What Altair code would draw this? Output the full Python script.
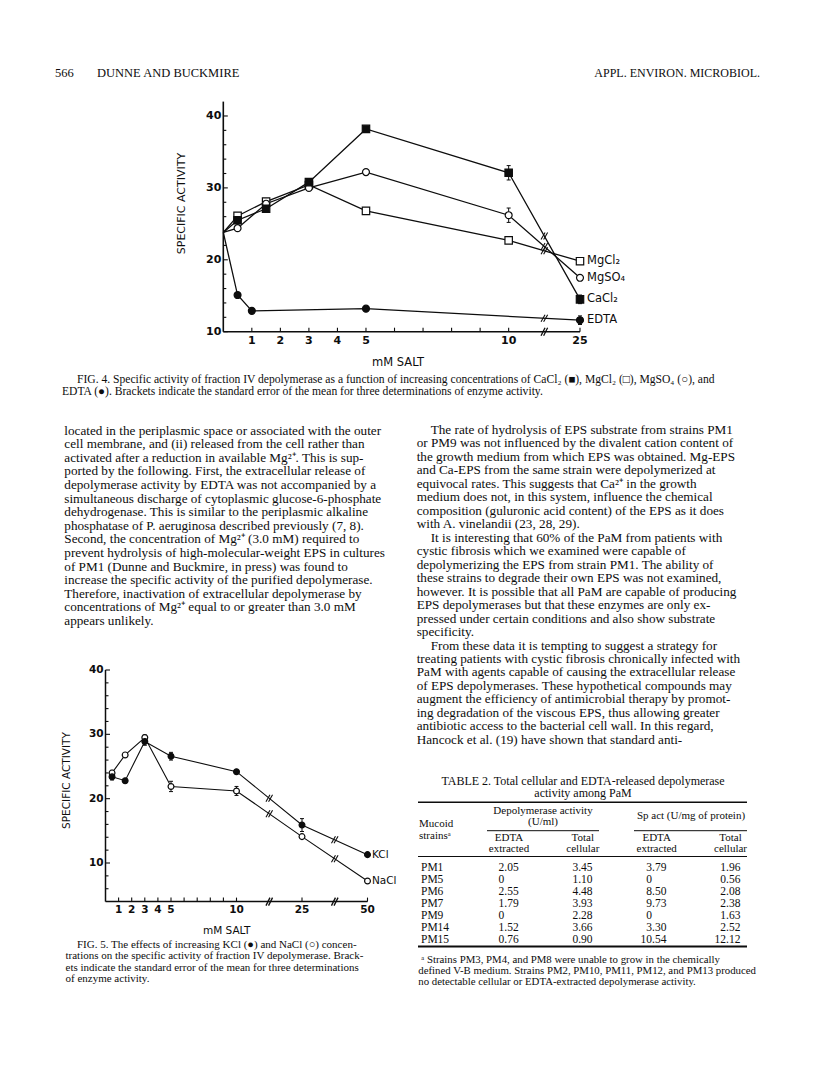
import altair as alt
import numpy as np
import pandas as pd

# ---------------- DATA ----------------
# Fig. 4: specific activity vs mM salt (0 = no salt added)
fig4_mM = [0, 0.5, 1.5, 3, 5, 10, 25]
fig4_cacl2 = [23.8, 25.5, 27.1, 30.8, 38.2, 32.1, 14.5]
fig4_mgcl2 = [23.8, 26.1, 28.1, 30.4, 26.8, 22.7, 19.8]
fig4_mgso4 = [23.8, 24.4, 27.8, 30.0, 32.2, 26.2, 17.5]
fig4_edta_mM = [0, 0.5, 1, 5, 25]
fig4_edta = [23.8, 15.1, 12.9, 13.2, 11.6]
fig4_err_series = ["CaCl2", "CaCl2", "MgSO4", "MgCl2", "EDTA", "CaCl2"]
fig4_err_mM = [10, 25, 10, 0.5, 25, 0.5]
fig4_err_se = [1.0, 0.6, 1.0, 0.3, 0.6, 0.4]
fig4_series = ["CaCl2", "MgCl2", "MgSO4", "EDTA"]
fig4_labels = ["CaCl₂", "MgCl₂", "MgSO₄", "EDTA"]
fig4_xlabels = [1, 2, 3, 4, 5, 10, 25]
fig4_yticks = [10, 20, 30, 40]

# Fig. 5
fig5_mM = [0.5, 1.5, 3, 5, 10, 25, 50]
fig5_kcl = [23.4, 22.8, 28.9, 26.6, 24.2, 15.9, 11.3]
fig5_nacl = [24.0, 26.8, 29.5, 21.9, 21.2, 14.1, 7.2]
fig5_err_series = ["KCl", "KCl", "KCl", "KCl", "NaCl", "NaCl", "NaCl", "NaCl"]
fig5_err_mM = [0.5, 3, 5, 25, 0.5, 3, 5, 10]
fig5_err_se = [0.5, 0.6, 0.6, 1.0, 0.4, 0.4, 0.8, 0.7]
fig5_series = ["KCl", "NaCl"]
fig5_labels = ["KCl", "NaCl"]
fig5_xlabels = [1, 2, 3, 4, 5, 10, 25, 50]
fig5_yticks = [10, 20, 30, 40]

# Table 2
tab_strains = ["PM1", "PM5", "PM6", "PM7", "PM9", "PM14", "PM15"]
tab_edta_u = [2.05, 0, 2.55, 1.79, 0, 1.52, 0.76]
tab_total_u = [3.45, 1.10, 4.48, 3.93, 2.28, 3.66, 0.90]
tab_edta_sp = [3.79, 0, 8.50, 9.73, 0, 3.30, 10.54]
tab_total_sp = [1.96, 0.56, 2.08, 2.38, 1.63, 2.52, 12.12]

# Text
header_left = "DUNNE AND BUCKMIRE"
header_page = "566"
header_right = "APPL. ENVIRON. MICROBIOL."
fig4_caption = [
    "FIG. 4.  Specific activity of fraction IV depolymerase as a function of increasing concentrations of CaCl₂ (■), MgCl₂ (□), MgSO₄ (○), and",
    "EDTA (●). Brackets indicate the standard error of the mean for three determinations of enzyme activity.",
]
left_text = [
    "located in the periplasmic space or associated with the outer",
    "cell membrane, and (ii) released from the cell rather than",
    "activated after a reduction in available Mg²⁺. This is sup-",
    "ported by the following. First, the extracellular release of",
    "depolymerase activity by EDTA was not accompanied by a",
    "simultaneous discharge of cytoplasmic glucose-6-phosphate",
    "dehydrogenase. This is similar to the periplasmic alkaline",
    "phosphatase of P. aeruginosa described previously (7, 8).",
    "Second, the concentration of Mg²⁺ (3.0 mM) required to",
    "prevent hydrolysis of high-molecular-weight EPS in cultures",
    "of PM1 (Dunne and Buckmire, in press) was found to",
    "increase the specific activity of the purified depolymerase.",
    "Therefore, inactivation of extracellular depolymerase by",
    "concentrations of Mg²⁺ equal to or greater than 3.0 mM",
    "appears unlikely.",
]
right_text = [
    "The rate of hydrolysis of EPS substrate from strains PM1",
    "or PM9 was not influenced by the divalent cation content of",
    "the growth medium from which EPS was obtained. Mg-EPS",
    "and Ca-EPS from the same strain were depolymerized at",
    "equivocal rates. This suggests that Ca²⁺ in the growth",
    "medium does not, in this system, influence the chemical",
    "composition (guluronic acid content) of the EPS as it does",
    "with A. vinelandii (23, 28, 29).",
    "It is interesting that 60% of the PaM from patients with",
    "cystic fibrosis which we examined were capable of",
    "depolymerizing the EPS from strain PM1. The ability of",
    "these strains to degrade their own EPS was not examined,",
    "however. It is possible that all PaM are capable of producing",
    "EPS depolymerases but that these enzymes are only ex-",
    "pressed under certain conditions and also show substrate",
    "specificity.",
    "From these data it is tempting to suggest a strategy for",
    "treating patients with cystic fibrosis chronically infected with",
    "PaM with agents capable of causing the extracellular release",
    "of EPS depolymerases. These hypothetical compounds may",
    "augment the efficiency of antimicrobial therapy by promot-",
    "ing degradation of the viscous EPS, thus allowing greater",
    "antibiotic access to the bacterial cell wall. In this regard,",
    "Hancock et al. (19) have shown that standard anti-",
]
right_indent = [1, 0, 0, 0, 0, 0, 0, 0, 1, 0, 0, 0, 0, 0, 0, 0, 1, 0, 0, 0, 0, 0, 0, 0]
fig5_caption = [
    "FIG. 5.  The effects of increasing KCl (●) and NaCl (○) concen-",
    "trations on the specific activity of fraction IV depolymerase. Brack-",
    "ets indicate the standard error of the mean for three determinations",
    "of enzyme activity.",
]
table_title = ["TABLE 2.  Total cellular and EDTA-released depolymerase", "activity among PaM"]
table_sub1 = ["EDTA", "Total", "EDTA", "Total"]
table_sub2 = ["extracted", "cellular", "extracted", "cellular"]
table_foot = [
    "ᵃ Strains PM3, PM4, and PM8 were unable to grow in the chemically",
    "defined V-B medium. Strains PM2, PM10, PM11, PM12, and PM13 produced",
    "no detectable cellular or EDTA-extracted depolymerase activity.",
]

# ---------------- LAYOUT (page pixels; chart origin is the 8px page margin) ----------------
OFF = 8.0


def P(v):
    return v - OFF


SERIF = "Liberation Serif"
SANS = "DejaVu Sans"
INK = "#0d0d0d"
BODY = 13.2

layers = []


def sc(domain, rng):
    return alt.Scale(domain=domain, range=[P(r) for r in rng], nice=False, zero=False)


def label(text, x, y, **mk):
    df = pd.DataFrame({"t": [text]})
    props = dict(align="left", baseline="middle", font=SERIF, fontSize=12, color=INK)
    props.update(mk)
    return alt.Chart(df).mark_text(**props).encode(
        x=alt.value(P(x)), y=alt.value(P(y)), text="t:N"
    )


def block(lines, x, y0, step, indent=None, indent_px=0.0, **mk):
    n = len(lines)
    ind = indent if indent is not None else [0] * n
    df = pd.DataFrame({"t": lines, "i": list(range(n)), "ind": ind})
    props = dict(align="left", baseline="middle", font=SERIF, fontSize=12, color=INK)
    props.update(mk)
    if indent_px:
        xe = alt.X("ind:Q", scale=sc([0, 1], [x, x + indent_px]), axis=None)
    else:
        xe = alt.value(P(x))
    ye = alt.Y("i:Q", scale=sc([0, n - 1], [y0, y0 + step * (n - 1)]), axis=None)
    return alt.Chart(df).mark_text(**props).encode(x=xe, y=ye, text="t:N")


def rule(x1, x2, y, w=1.0):
    df = pd.DataFrame({"a": [0]})
    return alt.Chart(df).mark_rule(color=INK, strokeWidth=w).encode(
        x=alt.value(P(x1)), x2=alt.value(P(x2)), y=alt.value(P(y))
    )


def break_glyph(df, X, Y, half=3.5, gap=2.6, w=1.1):
    """Two short slanted strokes drawn across a line or axis at each (x, y)."""
    out = []
    for d in (-gap / 2, gap / 2):
        out.append(alt.Chart(df).mark_rule(color=INK, strokeWidth=w,
                                           xOffset=d - 2, x2Offset=d + 2,
                                           yOffset=half, y2Offset=-half)
                   .encode(x=alt.X("x:Q", scale=X, axis=None), x2="x:Q",
                           y=alt.Y("y:Q", scale=Y, axis=None), y2="y:Q"))
    return out


def plot_layers(X, Y, series_data, styles, err, xlabel_pos, xtick_pos, axis_breaks,
                line_breaks, ymax_axis, ymin, xmin, xmax, yticks, yminor,
                label_names, label_dx, label_size, msize, line_w, axis_w, tick_size):
    out = []
    df = pd.DataFrame(series_data)
    ax = dict(axis=None)
    # axis lines
    out.append(alt.Chart(pd.DataFrame({"x": [xmin], "y": [ymin], "y2": [ymax_axis]}))
               .mark_rule(color=INK, strokeWidth=axis_w)
               .encode(x=alt.X("x:Q", scale=X, **ax), y=alt.Y("y:Q", scale=Y, **ax), y2="y2:Q"))
    out.append(alt.Chart(pd.DataFrame({"x": [xmin], "x2": [xmax], "y": [ymin]}))
               .mark_rule(color=INK, strokeWidth=axis_w)
               .encode(x=alt.X("x:Q", scale=X, **ax), x2="x2:Q", y=alt.Y("y:Q", scale=Y, **ax)))
    # y ticks
    for vals, L in ((yticks, 4.5), (yminor, 3.0)):
        out.append(alt.Chart(pd.DataFrame({"x": [xmin] * len(vals), "y": vals}))
                   .mark_tick(orient="horizontal", size=L, thickness=1.1, xOffset=L / 2, color=INK, opacity=1)
                   .encode(x=alt.X("x:Q", scale=X, **ax), y=alt.Y("y:Q", scale=Y, **ax)))
    out.append(alt.Chart(pd.DataFrame({"x": [xmin] * len(yticks), "y": yticks, "t": [str(v) for v in yticks]}))
               .mark_text(align="right", baseline="middle", dx=-2, font=SANS, fontWeight="bold",
                          fontSize=tick_size, color=INK)
               .encode(x=alt.X("x:Q", scale=X, **ax), y=alt.Y("y:Q", scale=Y, **ax), text="t:N"))
    # x ticks
    out.append(alt.Chart(pd.DataFrame({"x": xtick_pos, "y": [ymin] * len(xtick_pos)}))
               .mark_tick(orient="vertical", size=4, thickness=1.1, yOffset=-2, color=INK, opacity=1)
               .encode(x=alt.X("x:Q", scale=X, **ax), y=alt.Y("y:Q", scale=Y, **ax)))
    out.append(alt.Chart(pd.DataFrame({"x": [p for p, _ in xlabel_pos], "y": [ymin] * len(xlabel_pos),
                                       "t": [str(t) for _, t in xlabel_pos]}))
               .mark_text(align="center", baseline="top", dy=3, font=SANS, fontWeight="bold",
                          fontSize=tick_size, color=INK)
               .encode(x=alt.X("x:Q", scale=X, **ax), y=alt.Y("y:Q", scale=Y, **ax), text="t:N"))
    # axis breaks
    out += break_glyph(pd.DataFrame({"x": axis_breaks, "y": [ymin] * len(axis_breaks)}), X, Y, half=4, w=1.3)
    # lines
    out.append(alt.Chart(df).mark_line(color=INK, strokeWidth=line_w)
               .encode(x=alt.X("pos:Q", scale=X, **ax), y=alt.Y("val:Q", scale=Y, **ax),
                       detail="series:N", order="pos:Q"))
    # line break glyphs (placed on the drawn segments)
    brk = []
    for s in df["series"].unique():
        d = df[df.series == s].sort_values("pos")
        for b in line_breaks:
            if d.pos.min() < b < d.pos.max():
                brk.append({"x": b, "y": float(np.interp(b, d.pos, d.val))})
    out += break_glyph(pd.DataFrame(brk), X, Y)
    # error brackets
    e = pd.DataFrame(err)
    out.append(alt.Chart(e).mark_rule(color=INK, strokeWidth=1.0)
               .encode(x=alt.X("pos:Q", scale=X, **ax), y=alt.Y("lo:Q", scale=Y, **ax), y2="hi:Q"))
    for f in ("lo", "hi"):
        out.append(alt.Chart(e).mark_tick(orient="horizontal", size=4, thickness=1.0, color=INK, opacity=1)
                   .encode(x=alt.X("pos:Q", scale=X, **ax), y=alt.Y(f + ":Q", scale=Y, **ax)))
    # markers
    pts = df[df.mM > 0]
    for s, (shape, filled) in styles.items():
        size = msize[shape]
        out.append(alt.Chart(pts[pts.series == s])
                   .mark_point(shape=shape, filled=True, fill=INK if filled else "white", stroke=INK,
                               strokeWidth=1.2, size=size, opacity=1)
                   .encode(x=alt.X("pos:Q", scale=X, **ax), y=alt.Y("val:Q", scale=Y, **ax)))
    # end labels
    ends = df.sort_values("pos").groupby("series").tail(1).copy()
    ends["t"] = ends["series"].map(label_names)
    out.append(alt.Chart(ends).mark_text(align="left", baseline="middle", dx=label_dx, font=SANS,
                                         fontSize=label_size, color=INK)
               .encode(x=alt.X("pos:Q", scale=X, **ax), y=alt.Y("val:Q", scale=Y, **ax), text="t:N"))
    return out


# ---------- Fig. 4 ----------
F4_POS = {25: 12.5}
X4 = sc([0, 12.5], [223.3, 580.0])
Y4 = sc([10, 42], [331.7, 101.6])
f4_rows = []
for s, xs, ys in (("CaCl2", fig4_mM, fig4_cacl2), ("MgCl2", fig4_mM, fig4_mgcl2),
                  ("MgSO4", fig4_mM, fig4_mgso4), ("EDTA", fig4_edta_mM, fig4_edta)):
    for xv, yv in zip(xs, ys):
        f4_rows.append({"series": s, "mM": xv, "pos": F4_POS.get(xv, xv), "val": yv})
f4_val = {(r["series"], r["mM"]): r["val"] for r in f4_rows}
f4_err = [{"pos": F4_POS.get(m, m), "lo": f4_val[(s, m)] - se, "hi": f4_val[(s, m)] + se}
          for s, m, se in zip(fig4_err_series, fig4_err_mM, fig4_err_se)]
layers += plot_layers(
    X4, Y4, f4_rows,
    {"MgCl2": ("square", False), "MgSO4": ("circle", False), "CaCl2": ("square", True), "EDTA": ("circle", True)},
    f4_err,
    [(F4_POS.get(v, v), v) for v in fig4_xlabels],
    list(range(1, 11)) + [12.5],
    [11.25], [11.25], 42, 10, 0, 12.5,
    fig4_yticks, [v for v in range(12, 40, 2) if v % 10],
    dict(zip(fig4_series, fig4_labels)), 7, 11.5,
    {"square": 55, "circle": 48}, 1.3, 1.6, 11,
)
layers.append(label("SPECIFIC ACTIVITY", 182, 203.5, font=SANS, fontSize=11, angle=270, align="center"))
layers.append(label("mM SALT", 398, 363, font=SANS, fontSize=11.5, align="center"))

# ---------- Fig. 5 ----------
F5_POS = {25: 15, 50: 20}
X5 = sc([0, 20], [105.5, 367.5])
Y5 = sc([4, 40], [901.6, 670.0])
f5_rows = []
for s, ys in (("KCl", fig5_kcl), ("NaCl", fig5_nacl)):
    for xv, yv in zip(fig5_mM, ys):
        f5_rows.append({"series": s, "mM": xv, "pos": F5_POS.get(xv, xv), "val": yv})
f5_val = {(r["series"], r["mM"]): r["val"] for r in f5_rows}
f5_err = [{"pos": F5_POS.get(m, m), "lo": f5_val[(s, m)] - se, "hi": f5_val[(s, m)] + se}
          for s, m, se in zip(fig5_err_series, fig5_err_mM, fig5_err_se)]
layers += plot_layers(
    X5, Y5, f5_rows,
    {"NaCl": ("circle", False), "KCl": ("circle", True)},
    f5_err,
    [(F5_POS.get(v, v), v) for v in fig5_xlabels],
    list(range(1, 11)) + [15, 20],
    [12.5, 17.5], [12.5, 17.5], 40, 4, 0, 20,
    fig5_yticks, [v for v in range(6, 40, 2) if v % 10],
    dict(zip(fig5_series, fig5_labels)), 4.5, 10.5,
    {"square": 40, "circle": 34}, 1.1, 1.5, 10.5,
)
layers.append(label("SPECIFIC ACTIVITY", 66.7, 780.5, font=SANS, fontSize=10.5, angle=270, align="center"))
layers.append(label("mM SALT", 226.7, 931.0, font=SANS, fontSize=10.5, align="center"))

# ---------- page header ----------
layers.append(label(header_page, 55, 73, fontSize=12.5))
layers.append(label(header_left, 97, 73, fontSize=12.5))
layers.append(label(header_right, 760, 73, fontSize=12, align="right"))

# ---------- captions and body text ----------
layers.append(block(fig4_caption, 62, 380, 12.2, indent=[1, 0], indent_px=15, fontSize=11.6))
layers.append(block(left_text, 64.3, 430.7, 13.58, fontSize=BODY))
layers.append(block(right_text, 416.7, 430, 13.47, indent=right_indent, indent_px=14, fontSize=BODY))
layers.append(block(fig5_caption, 65.5, 944.8, 11.5, indent=[1, 0, 0, 0], indent_px=11.5, fontSize=11.0))

# ---------- Table 2 ----------
layers.append(block(table_title, 583, 780.7, 12.6, fontSize=12, align="center"))
layers.append(rule(418, 747, 802.3, 1.6))
layers.append(label("Depolymerase activity", 543, 810.7, fontSize=11, align="center"))
layers.append(label("(U/ml)", 543, 821.5, fontSize=11, align="center"))
layers.append(label("Sp act (U/mg of protein)", 691, 816, fontSize=11, align="center"))
layers.append(label("Mucoid", 419, 824, fontSize=11))
layers.append(label("strainsᵃ", 419, 835.7, fontSize=11))
layers.append(rule(487, 599, 830.7, 1.0))
layers.append(rule(634, 747, 830.7, 1.0))
COLH = sc([0, 3], [509, 730.5])
hdr = pd.DataFrame({"c": [0, 1, 2, 3], "a": table_sub1, "b": table_sub2})
for fld, yy in (("a", 838), ("b", 849)):
    layers.append(alt.Chart(hdr).mark_text(align="center", baseline="middle", font=SERIF, fontSize=11, color=INK)
                  .encode(x=alt.X("c:Q", scale=COLH, axis=None), y=alt.value(P(yy)), text=fld + ":N"))
layers.append(rule(418, 747, 856.5, 1.0))

ROW = sc([0, len(tab_strains) - 1], [868.3, 940])
COLD = sc([0, 3], [504.3, 726])
cells = []
for r, vals in enumerate(zip(tab_edta_u, tab_total_u, tab_edta_sp, tab_total_sp)):
    for c, v in enumerate(vals):
        s = "0" if v == 0 else f"{v:.2f}"
        ip, _, fp = s.partition(".")
        cells.append({"r": r, "c": c, "ip": ip, "fp": ("." + fp) if fp else ""})
cells = pd.DataFrame(cells)
layers.append(alt.Chart(pd.DataFrame({"r": range(len(tab_strains)), "t": tab_strains}))
              .mark_text(align="left", baseline="middle", font=SERIF, fontSize=11.5, color=INK)
              .encode(x=alt.value(P(421)), y=alt.Y("r:Q", scale=ROW, axis=None), text="t:N"))
layers.append(alt.Chart(cells).mark_text(align="right", baseline="middle", font=SERIF, fontSize=11.5, color=INK)
              .encode(x=alt.X("c:Q", scale=COLD, axis=None), y=alt.Y("r:Q", scale=ROW, axis=None), text="ip:N"))
layers.append(alt.Chart(cells).mark_text(align="left", baseline="middle", font=SERIF, fontSize=11.5, color=INK)
              .encode(x=alt.X("c:Q", scale=COLD, axis=None), y=alt.Y("r:Q", scale=ROW, axis=None), text="fp:N"))
layers.append(rule(418, 747, 946.5, 1.8))
layers.append(block(table_foot, 418.3, 960, 11, indent=[1, 0, 0], indent_px=3, fontSize=10.8))

chart = (
    alt.layer(*layers)
    .resolve_scale(x="independent", y="independent")
    .properties(width=800, height=1059, padding=0, background="white",
                autosize=alt.AutoSizeParams(type="none"))
    .configure_view(stroke=None)
)
chart.save("out.html", embed_options={"renderer": "svg", "actions": False})
